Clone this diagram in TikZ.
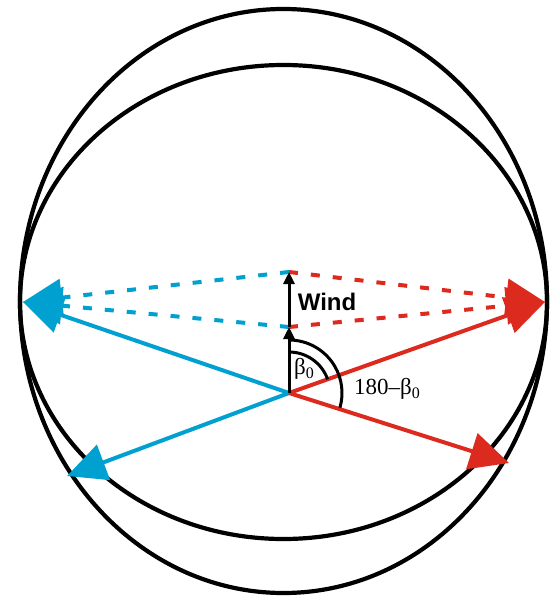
\documentclass[tikz,border=0pt]{standalone}
\usepackage{fontspec}
\setmainfont{Liberation Serif}
\newfontfamily\arialfont{Liberation Sans}
\usetikzlibrary{arrows.meta,calc}
\definecolor{myblue}{RGB}{0,160,208}
\definecolor{myred}{RGB}{220,42,30}
\tikzset{
  ring/.style={draw=black, line width=4.2pt},
  vec/.style={line width=4pt, -{Triangle[length=39pt,width=37pt]}},
  dvec/.style={line width=4pt, dash pattern=on 9pt off 13pt, -{Triangle[length=39pt,width=37pt]}},
  windvec/.style={line width=3pt, draw=black, -{Triangle[length=12pt,width=11pt]}},
  anglearc/.style={line width=3pt, draw=black},
  lbl/.style={inner sep=0pt, font=\fontsize{23}{23}\selectfont},
}
\newcommand{\subz}{{\fontsize{16}{16}\selectfont\raisebox{-4pt}{0}}}
\begin{document}
\begin{tikzpicture}[x=1pt,y=1pt]
\useasboundingbox (0,0) rectangle (550,-596);
% ellipses
\draw[ring] (283.5,-301) ellipse[x radius=263.5, y radius=292];
\draw[ring] (283.5,-302) ellipse[x radius=263.5, y radius=237];
% points
\coordinate (O) at (289,-393);
\coordinate (W1) at (289,-327);
\coordinate (W2) at (289,-272);
\coordinate (BU) at (23,-302);
\coordinate (RU) at (545,-302);
\coordinate (BD) at (67,-476);
\coordinate (RD) at (509,-463);
% dashed arrows
\draw[dvec, myblue] (W2) -- (BU);
\draw[dvec, myblue] (W1) -- (BU);
\draw[dvec, myred] (W2) -- (RU);
\draw[dvec, myred] (W1) -- (RU);
% solid arrows
\draw[vec, myblue] (O) -- (BU);
\draw[vec, myblue] (O) -- (BD);
\draw[vec, myred] (O) -- (RU);
\draw[vec, myred] (O) -- (RD);
% wind arrow
\draw[windvec] (O) -- (W1);
\draw[windvec] (W1) -- (W2);
% angle arcs
\draw[anglearc] ($(O)+(90:41)$) arc[start angle=90, end angle=19.6, radius=41];
\draw[anglearc] ($(O)+(90:53)$) arc[start angle=90, end angle=-16, radius=53];
% labels
\node[inner sep=0pt, font=\arialfont\bfseries\fontsize{24}{24}\selectfont] (wind) at (327,-302) {Wind};
\node[lbl] (beta) at (304,-369) {β\subz};
\node[lbl] (supp) at (387,-389) {180–β\subz};
\end{tikzpicture}
\end{document}
